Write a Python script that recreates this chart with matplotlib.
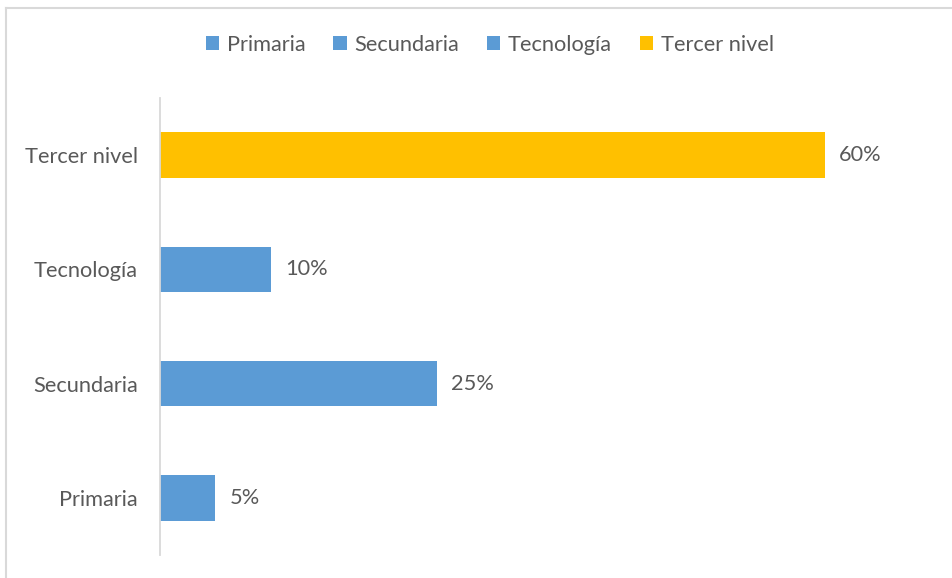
import matplotlib

matplotlib.use("Agg")
import matplotlib.pyplot as plt
from matplotlib.patches import Patch
from matplotlib.lines import Line2D

categories = ["Primaria", "Secundaria", "Tecnología", "Tercer nivel"]
values = [5, 25, 10, 60]
colors = ["#5B9BD5", "#5B9BD5", "#5B9BD5", "#FFC000"]

text_color = "#595959"
plt.rcParams["font.family"] = ["Lato", "DejaVu Sans"]
fs = 15.7

fig = plt.figure(figsize=(9.53, 5.78), dpi=100)
ax = fig.add_axes([160 / 953, 1 - 555 / 578, 775 / 953, 457 / 578])

y = list(range(len(categories)))
ax.barh(y, values, height=0.4, color=colors)
for yi, v in zip(y, values):
    ax.annotate(f"{v}%", (v, yi), xytext=(14, 0), textcoords="offset pixels",
                va="center", ha="left", fontsize=fs, color=text_color)

ax.set_xlim(0, 69.9)
ax.set_ylim(-0.5, len(categories) - 0.5)
ax.set_yticks(y)
ax.set_yticklabels(categories, fontsize=fs, color=text_color)
ax.tick_params(axis="y", length=0, pad=16)
ax.set_xticks([])
for side in ["top", "right", "bottom"]:
    ax.spines[side].set_visible(False)
ax.spines["left"].set_color("#D9D9D9")
ax.spines["left"].set_linewidth(1.3)

handles = [Patch(facecolor=c, edgecolor="none") for c in colors]
fig.legend(handles, categories, loc="center", bbox_to_anchor=(490 / 953, 1 - 45 / 578),
           ncol=4, frameon=False, fontsize=fs, labelcolor=text_color,
           handlelength=0.6, handleheight=0.6, handletextpad=0.35, columnspacing=1.3)

# chart border (left and top visible)
fig.add_artist(Line2D([6 / 953, 6 / 953], [0, 1 - 8 / 578], transform=fig.transFigure,
                      color="#D9D9D9", linewidth=1.5))
fig.add_artist(Line2D([6 / 953, 1], [1 - 8 / 578, 1 - 8 / 578], transform=fig.transFigure,
                      color="#D9D9D9", linewidth=1.5))

fig.savefig("out.png", dpi=100)
